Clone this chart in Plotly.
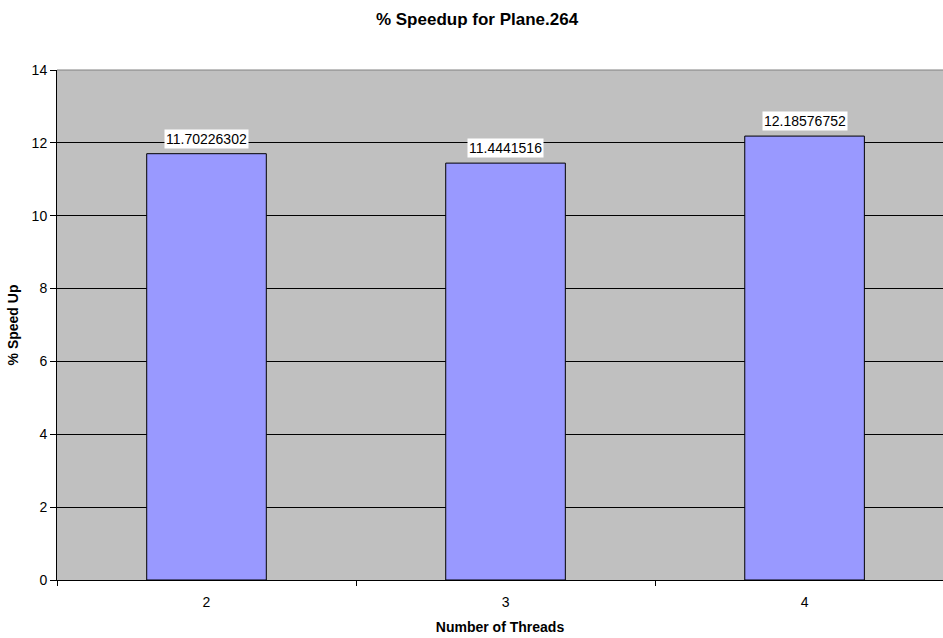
import plotly.graph_objects as go

# Thread counts and the measured speedup (%) for each
threads = ["2", "3", "4"]
speedup = [11.70226302, 11.4441516, 12.18576752]
speedup_labels = ["11.70226302", "11.4441516", "12.18576752"]
y_ticks = [0, 2, 4, 6, 8, 10, 12, 14]

font_family = "Liberation Sans, Arial, sans-serif"

fig = go.Figure(
    go.Bar(
        x=threads,
        y=speedup,
        width=0.4,
        marker=dict(color="#9999FF", line=dict(color="#000000", width=1)),
        hoverinfo="x+y",
    )
)

# Value labels in white boxes just above each bar (x given as category index)
for i, (v, lab) in enumerate(zip(speedup, speedup_labels)):
    fig.add_annotation(
        x=i, y=v, xref="x", yref="y", text=lab, showarrow=False,
        yanchor="bottom", yshift=5,
        bgcolor="#FFFFFF", borderpad=1,
        font=dict(family=font_family, size=14, color="#000000"),
    )

fig.update_layout(
    width=943, height=638,
    margin=dict(l=57, r=0, t=70, b=58),
    paper_bgcolor="#FFFFFF",
    plot_bgcolor="#C0C0C0",
    showlegend=False,
    bargap=0.6,
    font=dict(family=font_family, size=14, color="#000000"),
    title=dict(
        text="<b>% Speedup for Plane.264</b>",
        x=477 / 943, xref="container", xanchor="center",
        y=1 - 19 / 638, yref="container", yanchor="middle",
        font=dict(family=font_family, size=17, color="#000000"),
    ),
    xaxis=dict(
        type="category",
        range=[-0.5, 2.463],
        tickson="boundaries",
        ticks="outside", ticklen=5, tickcolor="#000000",
        ticklabelstandoff=9,
        showline=True, linecolor="#000000", linewidth=1,
        showgrid=False,
        tickfont=dict(size=14),
        title=dict(text="<b>Number of Threads</b>", standoff=13,
                   font=dict(size=14)),
    ),
    yaxis=dict(
        range=[0, 14],
        tickvals=y_ticks,
        ticks="outside", ticklen=6, tickcolor="#000000",
        showline=True, linecolor="#000000", linewidth=1,
        showgrid=True, gridcolor="#000000", gridwidth=1,
        zeroline=False,
        tickfont=dict(size=14),
        title=dict(text="<b>% Speed Up</b>", standoff=9,
                   font=dict(size=14)),
    ),
)

# Thin frame along the top of the plotting area
fig.add_shape(type="line", xref="paper", yref="paper", x0=0, x1=1, y0=1, y1=1,
              line=dict(color="#808080", width=1))

fig.write_html("out.html")
